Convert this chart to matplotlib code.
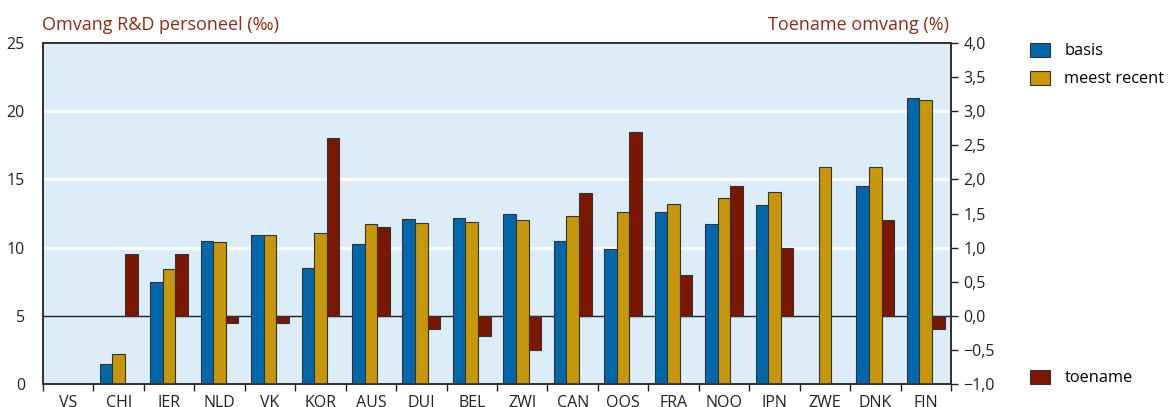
import numpy as np
import matplotlib
matplotlib.use("Agg")
import matplotlib.pyplot as plt
from matplotlib.ticker import FixedLocator, FuncFormatter

plt.rcParams['font.family'] = ['Open Sans', 'DejaVu Sans']

landen = ["VS", "CHI", "IER", "NLD", "VK", "KOR", "AUS", "DUI", "BEL", "ZWI",
          "CAN", "OOS", "FRA", "NOO", "JPN", "ZWE", "DNK", "FIN"]
basis = [np.nan, 1.45, 7.5, 10.5, 10.9, 8.5, 10.3, 12.1, 12.2, 12.5,
         10.5, 9.9, 12.6, 11.7, 13.1, np.nan, 14.5, 20.95]
recent = [0.0, 2.2, 8.4, 10.4, 10.9, 11.1, 11.7, 11.8, 11.9, 12.0,
          12.3, 12.6, 13.2, 13.6, 14.1, 15.9, 15.9, 20.85]
toename = [np.nan, 0.9, 0.9, -0.1, -0.1, 2.6, 1.3, -0.2, -0.3, -0.5,
           1.8, 2.7, 0.6, 1.9, 1.0, np.nan, 1.4, -0.2]

c_blue = "#0068aa"
c_gold = "#c6970b"
c_red = "#7a1702"
c_bg = "#dcedf9"
c_title = "#8e2c18"
c_edge = "#333333"

fig = plt.figure(figsize=(11.71, 4.07), dpi=100)
ax = fig.add_axes([43/1171, 1-384/407, (951-43)/1171, (384-43)/407])
ax2 = ax.twinx()

x = np.arange(len(landen))
w = 0.25

def teken(a, xs, vals, kleur, label):
    vals = np.array(vals, dtype=float)
    ok = np.isfinite(vals)
    return a.bar(xs[ok], vals[ok], width=w, color=kleur, edgecolor=c_edge,
                 linewidth=0.8, label=label, zorder=3)

b1 = teken(ax, x - w, basis, c_blue, "basis")
b2 = teken(ax, x, recent, c_gold, "meest recent")
b3 = teken(ax2, x + w, toename, c_red, "toename")

ax.set_facecolor(c_bg)
ax.set_xlim(-0.5, len(landen) - 0.5)
ax.set_ylim(0, 25)
ax2.set_ylim(-1, 4)

# rasterlijnen en nullijn van de rechteras
for yv in [10, 15, 20]:
    ax.axhline(yv, color="white", lw=2, zorder=1)
ax.axhline(5, color="#222222", lw=1, zorder=2)

ax.set_yticks([0, 5, 10, 15, 20, 25])
ax.tick_params(axis="y", length=0, pad=13, labelsize=11.5, colors="#222222")
ax2.set_yticks(np.arange(-1, 4.01, 0.5))
ax2.yaxis.set_major_formatter(FuncFormatter(lambda v, p: f"{v:.1f}".replace(".", ",").replace("-", "\u2212")))
ax2.tick_params(axis="y", direction="out", length=5, width=1, pad=4, labelsize=11.5,
                colors="#222222")

ax.set_xticks(x)
ax.set_xticklabels(landen)
ax.xaxis.set_minor_locator(FixedLocator(np.arange(-0.5, len(landen), 1)))
ax.tick_params(axis="x", which="major", length=0, pad=8, labelsize=11.5, colors="#222222")
ax.tick_params(axis="x", which="minor", length=5, width=1, direction="out", color="#222222")
ax2.tick_params(axis="x", length=0)

for a in (ax, ax2):
    for s in a.spines.values():
        s.set_color("#333333")
        s.set_linewidth(1.3)

fig.text(42/1171, 1-25/407, "Omvang R&D personeel (‰)", color=c_title, fontsize=13,
         ha="left", va="center")
fig.text(949/1171, 1-25/407, "Toename omvang (%)", color=c_title, fontsize=13,
         ha="right", va="center")

fig.legend(handles=[b1, b2], loc="upper left", bbox_to_anchor=(1030/1171, 1-43/407),
           frameon=False, fontsize=11.8, handlelength=1.2, handleheight=0.9,
           handletextpad=0.9, labelspacing=0.7, borderpad=0, borderaxespad=0)
fig.legend(handles=[b3], loc="upper left", bbox_to_anchor=(1030/1171, 1-370/407),
           frameon=False, fontsize=11.8, handlelength=1.2, handleheight=0.9,
           handletextpad=0.9, borderpad=0, borderaxespad=0)

fig.savefig("out.png", dpi=100)
